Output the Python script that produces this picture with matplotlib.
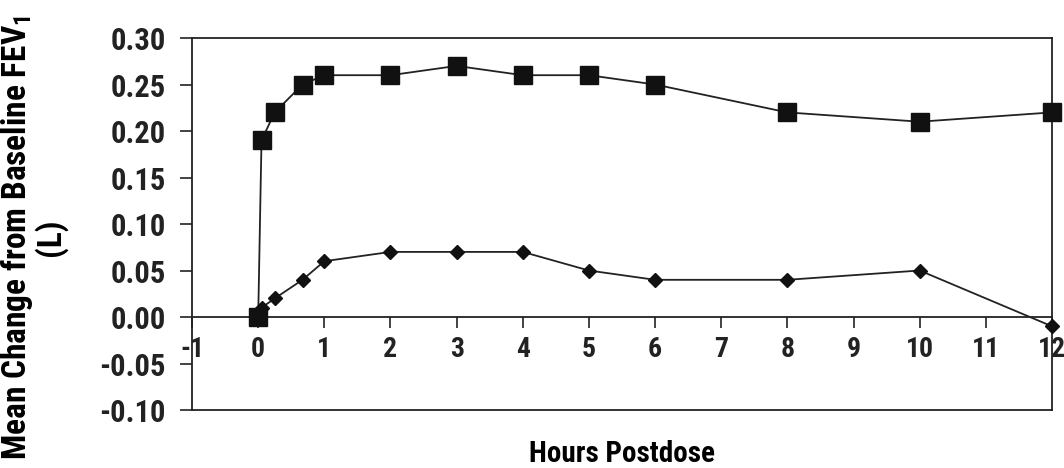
import matplotlib
matplotlib.use("Agg")
import matplotlib.pyplot as plt

hours = [0, 0.05, 0.25, 0.67, 1, 2, 3, 4, 5, 6, 8, 10, 12]
upper = [0.00, 0.19, 0.22, 0.25, 0.26, 0.26, 0.27, 0.26, 0.26, 0.25, 0.22, 0.21, 0.22]
lower = [0.00, 0.01, 0.02, 0.04, 0.06, 0.07, 0.07, 0.07, 0.05, 0.04, 0.04, 0.05, -0.01]

yticks = [-0.10, -0.05, 0.00, 0.05, 0.10, 0.15, 0.20, 0.25, 0.30]
xticks = list(range(-1, 13))

plt.rcParams['font.family'] = ['Roboto Condensed', 'IBM Plex Sans Condensed', 'DejaVu Sans']
plt.rcParams['font.weight'] = 'bold'

fig = plt.figure(figsize=(10.64, 4.68), dpi=100)
ax = fig.add_axes([0.1805, 0.1239, 0.8082, 0.7949])

ax.plot(hours, upper, color='#222222', lw=1.3, marker='s', ms=13, mfc='#111111', mec='#111111', zorder=3, clip_on=False)
ax.plot(hours, lower, color='#222222', lw=1.3, marker='D', ms=7, mfc='#111111', mec='#111111', zorder=3, clip_on=False)

ax.set_xlim(-1, 12)
ax.set_ylim(-0.10, 0.30)

# x axis crosses at y=0, box still drawn around the plot
ax.spines['bottom'].set_position(('data', 0))
ax.plot([0, 1], [0, 0], transform=ax.transAxes, color='#222222', lw=1.3, clip_on=False)
for s in ax.spines.values():
    s.set_color('#222222')
    s.set_linewidth(1.3)

ax.set_yticks(yticks)
ax.set_yticklabels(['%.2f' % v for v in yticks])
ax.set_xticks(xticks)
ax.set_xticklabels([str(v) for v in xticks])
ax.tick_params(axis='y', direction='out', length=9, width=1.2, pad=10, colors='#222222', labelsize=22)
ax.tick_params(axis='x', direction='out', length=8, width=1.2, pad=6, colors='#222222', labelsize=20)
for t in ax.get_xticklabels() + ax.get_yticklabels():
    t.set_fontweight('bold')

ax.set_ylabel('Mean Change from Baseline FEV$_\\mathregular{1}$\n(L)', fontsize=24, fontweight='bold', linespacing=0.95)
ax.yaxis.set_label_coords(-0.145, 0.465)
ax.set_xlabel('Hours Postdose', fontsize=21, fontweight='bold')
ax.xaxis.set_label_coords(0.5, -0.08)

fig.savefig('out.png', dpi=100)
